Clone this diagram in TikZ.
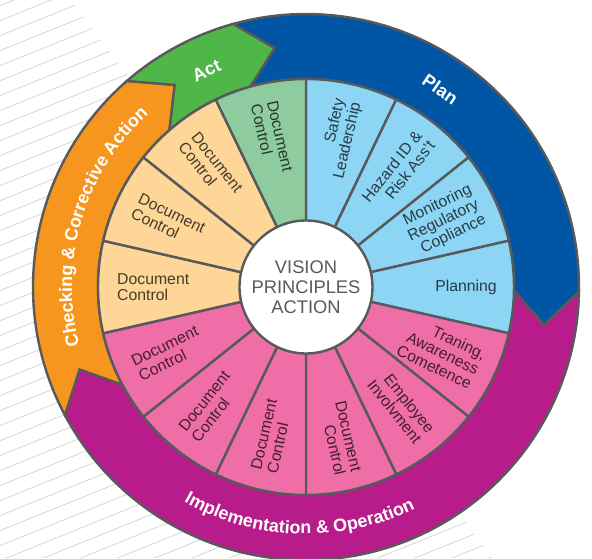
\documentclass[tikz,border=0pt]{standalone}
\usepackage{fontspec}
\setmainfont{Liberation Sans}
\usetikzlibrary{decorations.text}
\definecolor{bord}{HTML}{58595B}
\definecolor{dblue}{HTML}{0055A5}
\definecolor{purp}{HTML}{B81C8A}
\definecolor{orng}{HTML}{F7961E}
\definecolor{grn}{HTML}{4EB748}
\definecolor{lblue}{HTML}{8DD5F5}
\definecolor{pinkseg}{HTML}{EF6EA8}
\definecolor{lorng}{HTML}{FDD698}
\definecolor{lgrn}{HTML}{8ECB9F}
\definecolor{stripe}{HTML}{D9D9D9}
\definecolor{ctext}{HTML}{58595B}
\newcommand{\pdcaarrow}[4]{%
  \filldraw[fill=#1, draw=bord, line width=2.4pt, line join=miter]
    (#2:273) arc[start angle=#2, end angle=#3, radius=273]
    -- ({#3-#4}:241) -- (#3:208)
    arc[start angle=#3, end angle=#2, radius=208]
    -- ({#2-#4}:241) -- cycle;}
\tikzset{
  segtxt/.style={font=\fontsize{15.8}{16.5}\selectfont, text=black, text opacity=0.72, inner sep=0pt},
  bandtxt/.style={font=\fontsize{18}{18}\selectfont\bfseries, text=white, inner sep=0pt},
  segfill/.style={draw=bord, line width=2.4pt, line join=round}
}
\begin{document}
\begin{tikzpicture}[x=1pt,y=1pt]
\useasboundingbox (-306,-271) rectangle (286,287);
\fill[white] (-306,-271) rectangle (286,287);
% background stripes
\begin{scope}
  \clip (-306,287) -- (-235,287) -- (187,-271) -- (-306,-271) -- cycle;
  \foreach \b in {-360,-345,...,420}
    \draw[stripe, line width=0.9pt] (-320,{\b-0.404*320}) -- (300,{\b+0.404*300});
\end{scope}
\fill[white] (0,0) circle[radius=273];
% PDCA band arrows
\pdcaarrow{dblue}{105.5}{-1}{8}
\pdcaarrow{purp}{-1}{-152}{8}
\pdcaarrow{orng}{208}{131}{8}
\pdcaarrow{grn}{131}{105.5}{8}
% segments
\foreach \m/\c in {77.143/lblue, 51.429/lblue, 25.714/lblue, 0/lblue,
  -25.714/pinkseg, -51.429/pinkseg, -77.143/pinkseg, -102.857/pinkseg,
  -128.571/pinkseg, -154.286/pinkseg, -180/lorng, -205.714/lorng,
  -231.429/lorng, -257.143/lgrn}
  \filldraw[segfill, fill=\c] (0,0) -- ({\m+12.857}:208)
    arc[start angle={\m+12.857}, end angle={\m-12.857}, radius=208] -- cycle;
% core
\node[circle, draw=bord, fill=white, line width=2.4pt, minimum size=133pt, inner sep=0pt,
  font=\fontsize{18.3}{20}\selectfont, text=ctext, align=center] (core) at (0,0) {VISION\\PRINCIPLES\\ACTION};
% segment texts (right half)
\node[segtxt, anchor=east, align=right, rotate=77.143] (s0) at (77.143:191) {Safety\\Leadership};
\node[segtxt, anchor=east, align=right, rotate=51.429] (s1) at (51.429:191) {Hazard ID \&\\Risk Ass't};
\node[segtxt, anchor=east, align=right, rotate=25.714] (s2) at (25.714:191) {Monitoring\\Regulatory\\Copliance};
\node[segtxt, anchor=east, align=right, rotate=0] (s3) at (0:191) {Planning};
\node[segtxt, anchor=east, align=right, rotate=-25.714] (s4) at (-25.714:191) {Traning,\\Awareness\\Cometence};
\node[segtxt, anchor=east, align=right, rotate=-51.429] (s5) at (-51.429:191) {Employee\\Involvment};
\node[segtxt, anchor=east, align=right, rotate=-77.143] (s6) at (-77.143:191) {Document\\Control};
% segment texts (left half)
\node[segtxt, anchor=west, align=left, rotate=77.143] (s7) at (-102.857:189) {Document\\Control};
\node[segtxt, anchor=west, align=left, rotate=51.429] (s8) at (-128.571:189) {Document\\Control};
\node[segtxt, anchor=west, align=left, rotate=25.714] (s9) at (-154.286:189) {Document\\Control};
\node[segtxt, anchor=west, align=left, rotate=0] (s10) at (180:189) {Document\\Control};
\node[segtxt, anchor=west, align=left, rotate=-25.714] (s11) at (154.286:189) {Document\\Control};
\node[segtxt, anchor=west, align=left, rotate=-51.429] (s12) at (128.571:189) {Document\\Control};
\node[segtxt, anchor=west, align=left, rotate=-77.143] (s13) at (102.857:189) {Document\\Control};
% band labels
\node[bandtxt, rotate=-34.2] (plan) at (55.8:239) {Plan};
\node[bandtxt, rotate=24.7] (act) at (114.7:238) {Act};
\path[decorate, decoration={text along path, text align=center, text color=white,
  text={|\fontsize{18}{18}\selectfont\bfseries|Checking {\&} Corrective Action}}]
  (203.4:234) arc[start angle=203.4, end angle=123.4, radius=234];
\path[decorate, decoration={text along path, text align=center, text color=white,
  text={|\fontsize{18}{18}\selectfont\bfseries|Implementation {\&} Operation}}]
  (228.3:247) arc[start angle=228.3, end angle=308.3, radius=247];
\end{tikzpicture}
\end{document}
